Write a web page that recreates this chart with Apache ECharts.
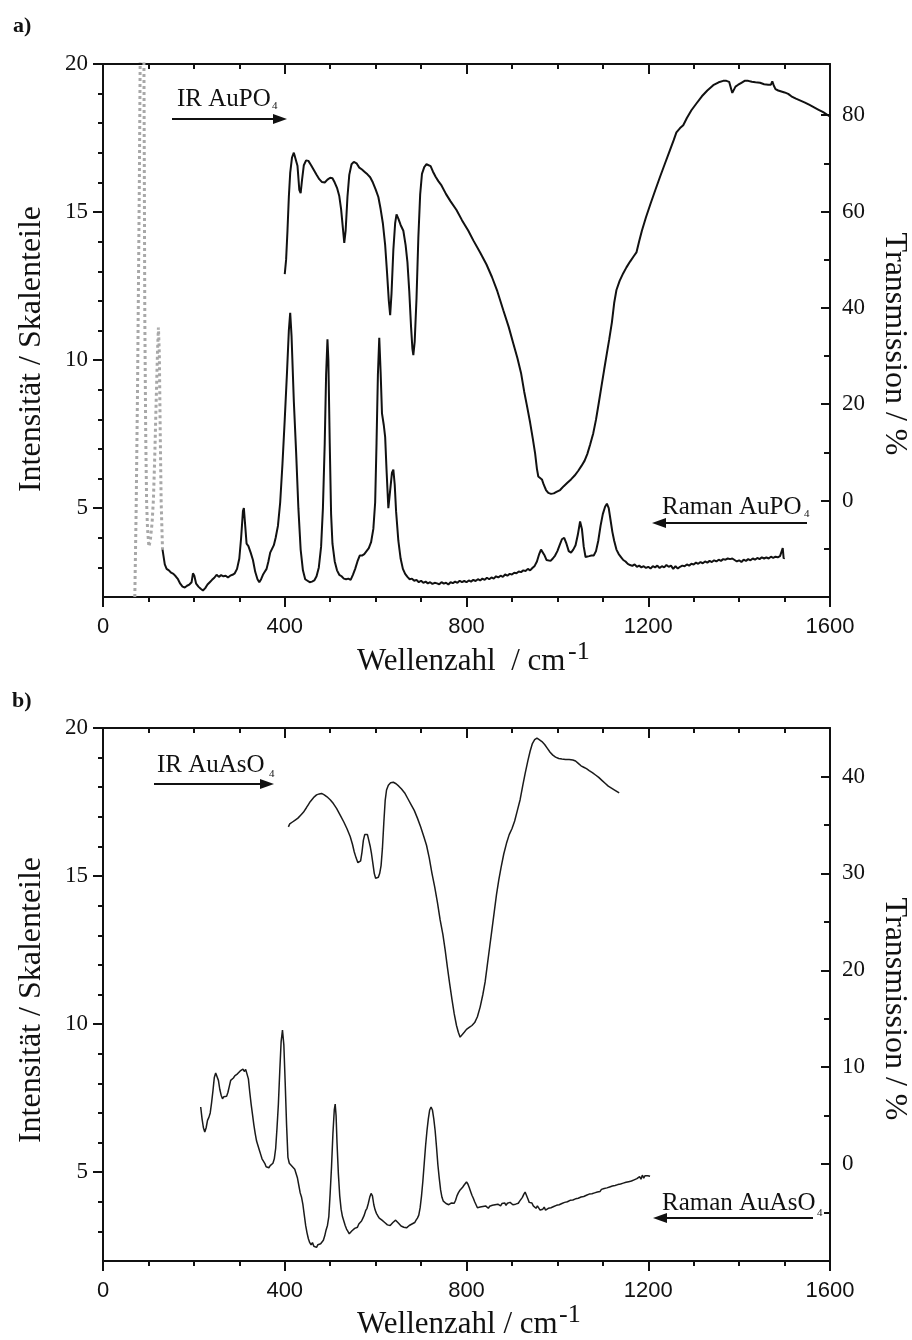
<!DOCTYPE html>
<html>
<head>
<meta charset="utf-8">
<script src="https://cdn.jsdelivr.net/npm/echarts@6/dist/echarts.min.js"></script>
<style>
html,body{margin:0;padding:0;background:#fff;}
#c{width:912px;height:1340px;}
</style>
</head>
<body>
<div id="c"></div>
<script>
// ---------- DATA ----------
const xTicks = [0, 400, 800, 1200, 1600];
const leftTicks = [5, 10, 15, 20];
const leftMinor = [3, 4, 6, 7, 8, 9, 11, 12, 13, 14, 16, 17, 18, 19];
const rightTicksA = [0, 20, 40, 60, 80];
const rightMinorA = [-10, 10, 30, 50, 70];
const rightTicksB = [0, 10, 20, 30, 40];
const rightMinorB = [-5, 5, 15, 25, 35];

// Panel a: IR AuPO4 (Transmission / %)
const irAuPO4 = [
[400,47.0],[403,50],[406,56],[409,63],[412,68],[416,71.2],[420,72.2],[424,72.0],[428,69.5],[432,64.5],[435,63.8],[438,66.5],[442,69.6],[447,70.6],[452,70.5],[458,69.6],[464,68.6],[470,67.6],[476,66.7],[482,66.1],[488,66.0],[494,66.6],[500,67.0],[505,66.9],[510,66.0],[515,64.9],[520,63.2],[524,60.5],[528,56.5],[531,53.5],[534,56],[538,63],[542,67.6],[547,69.8],[552,70.3],[558,70.0],[564,69.1],[570,68.7],[576,68.2],[582,67.7],[588,67.1],[594,66.0],[600,64.6],[606,63.0],[611,60.5],[616,57.5],[621,53.0],[625,47.5],[629,41.5],[632,38.5],[635,43],[639,52],[643,57.6],[646,59.4],[650,58.5],[655,57.2],[661,56.0],[666,53.0],[670,49.5],[674,43.5],[678,36],[681,31.5],[683,30.2],[686,33],[690,42],[694,54.5],[698,63.5],[702,67.8],[707,69.2],[712,69.8],[716,69.9],[721,69.4],[726,68.3],[732,67.2],[738,66.3],[745,65.4],[755,63.6],[765,62.1],[778,60.3],[790,58.2],[804,56.0],[815,54.0],[830,51.5],[844,49.0],[856,46.4],[868,43.4],[881,39.5],[893,36.0],[903,32.6],[912,29.6],[920,26.5],[927,22.6],[933,19.7],[940,16.2],[946,12.8],[951,9.8],[955,6.6],[958,5.0],[962,4.6],[966,4.4],[970,3.3],[975,2.2],[980,1.6],[986,1.4],[992,1.5],[998,1.8],[1006,2.2],[1014,3.0],[1022,3.7],[1030,4.4],[1038,5.2],[1046,6.2],[1053,7.2],[1060,8.3],[1066,9.7],[1072,11.6],[1079,14.0],[1085,16.8],[1091,20.2],[1097,23.7],[1103,27.2],[1109,30.6],[1114,33.4],[1120,37.0],[1125,41.0],[1130,43.7],[1137,45.6],[1145,47.2],[1152,48.4],[1160,49.6],[1168,50.7],[1174,51.5],[1180,53.8],[1186,56.0],[1195,58.8],[1205,61.6],[1215,64.3],[1226,67.2],[1237,70.0],[1248,72.8],[1256,74.8],[1262,76.4],[1270,77.3],[1277,77.9],[1285,79.4],[1295,81.0],[1306,82.4],[1318,83.9],[1330,85.1],[1343,86.2],[1355,86.8],[1365,87.1],[1372,87.1],[1378,86.9],[1382,86.6],[1385,84.6],[1388,84.8],[1392,85.9],[1398,86.3],[1405,86.7],[1412,87.1],[1420,87.1],[1428,86.9],[1436,86.8],[1446,86.7],[1455,86.4],[1464,86.3],[1470,86.3],[1473,87.0],[1476,86.2],[1480,85.4],[1486,85.1],[1493,84.9],[1500,84.7],[1508,84.4],[1515,83.9],[1525,83.4],[1535,83.0],[1545,82.6],[1555,82.1],[1565,81.6],[1575,81.1],[1585,80.6],[1595,80.0],[1600,79.7]
];

// Panel a: Raman AuPO4, Rayleigh region (grey dotted)
const ramanAuPO4Low = [
[70,2.0],[73,5],[76,9],[78,12.5],[80,16],[82,20.5],[85,24],[88,24],[90,20.5],[92,11.5],[94,7.5],[96,5.2],[98,4.3],[101,3.7],[104,3.9],[108,4.5],[111,5.3],[114,6.8],[117,8.6],[120,10.3],[122,11.1],[124,10.2],[126,7.5],[128,5.2],[131,3.6]
];

// Panel a: Raman AuPO4 (Intensität)
const ramanAuPO4 = [
[131,3.6],[136,3.1],[140,2.95],[145,2.9],[150,2.82],[155,2.78],[160,2.7],[165,2.6],[170,2.45],[175,2.35],[180,2.32],[185,2.38],[190,2.42],[195,2.5],[198,2.8],[201,2.72],[205,2.45],[210,2.35],[215,2.28],[220,2.22],[225,2.3],[230,2.42],[235,2.5],[240,2.58],[245,2.65],[250,2.75],[255,2.68],[260,2.74],[265,2.7],[270,2.72],[275,2.66],[280,2.72],[285,2.75],[290,2.8],[295,2.95],[300,3.3],[304,4.0],[308,4.9],[310,5.0],[313,4.4],[316,3.8],[320,3.72],[325,3.5],[330,3.25],[335,2.85],[340,2.6],[344,2.5],[348,2.6],[352,2.75],[356,2.85],[360,2.95],[364,3.2],[368,3.5],[372,3.55],[376,3.75],[380,4.0],[385,4.4],[390,5.2],[395,6.5],[400,8.0],[405,9.6],[409,11.0],[412,11.6],[415,10.8],[420,8.6],[425,6.9],[430,5.0],[435,3.6],[440,2.9],[445,2.6],[450,2.55],[455,2.5],[460,2.52],[465,2.56],[470,2.7],[475,3.0],[480,3.7],[484,5.0],[488,7.2],[491,9.5],[494,10.7],[496,10.0],[499,7.2],[502,4.8],[505,3.8],[510,3.2],[515,2.9],[520,2.75],[525,2.7],[530,2.62],[535,2.6],[540,2.62],[545,2.58],[550,2.75],[555,2.95],[560,3.2],[565,3.4],[570,3.4],[575,3.45],[580,3.55],[585,3.65],[590,3.85],[595,4.3],[599,5.2],[602,7.2],[605,9.5],[608,10.75],[611,9.6],[614,8.2],[618,7.8],[621,7.4],[624,6.3],[628,5.0],[632,5.6],[636,6.2],[639,6.3],[642,5.8],[645,4.9],[650,3.9],[655,3.3],[660,2.95],[665,2.78],[670,2.68],[675,2.6],[680,2.62],[685,2.55],[690,2.58],[695,2.5],[700,2.55],[705,2.48],[710,2.52],[715,2.46],[720,2.5],[725,2.44],[730,2.48],[735,2.46],[740,2.43],[745,2.5],[750,2.45],[755,2.48],[760,2.42],[765,2.5],[770,2.47],[775,2.52],[780,2.48],[785,2.55],[790,2.5],[795,2.54],[800,2.5],[805,2.56],[810,2.52],[815,2.58],[820,2.54],[825,2.6],[830,2.56],[835,2.62],[840,2.58],[845,2.65],[850,2.6],[855,2.66],[860,2.62],[865,2.7],[870,2.66],[875,2.72],[880,2.68],[885,2.76],[890,2.72],[895,2.78],[900,2.76],[905,2.82],[910,2.8],[915,2.86],[920,2.84],[925,2.9],[930,2.88],[935,2.95],[940,2.9],[945,2.98],[950,3.05],[955,3.2],[960,3.45],[964,3.6],[968,3.65],[972,3.4],[976,3.25],[980,3.3],[985,3.22],[990,3.3],[995,3.4],[1000,3.55],[1005,3.75],[1010,3.95],[1015,4.0],[1020,3.8],[1025,3.55],[1030,3.5],[1035,3.6],[1040,3.75],[1045,4.1],[1050,4.55],[1054,4.3],[1058,3.7],[1062,3.35],[1066,3.3],[1070,3.38],[1075,3.4],[1080,3.4],[1085,3.55],[1090,3.9],[1095,4.4],[1100,4.8],[1105,5.05],[1109,5.15],[1113,5.0],[1117,4.6],[1121,4.2],[1125,3.9],[1130,3.6],[1135,3.45],[1140,3.35],[1145,3.25],[1150,3.2],[1155,3.12],[1160,3.08],[1165,3.05],[1170,3.1],[1175,3.02],[1180,3.06],[1185,3.0],[1190,3.04],[1195,2.98],[1200,3.02],[1205,2.96],[1210,3.04],[1215,3.0],[1220,3.06],[1225,2.98],[1230,3.04],[1235,3.0],[1240,3.08],[1245,3.02],[1250,3.06],[1255,2.95],[1260,3.04],[1265,2.96],[1270,3.02],[1275,3.06],[1280,3.04],[1285,3.1],[1290,3.06],[1295,3.12],[1300,3.1],[1305,3.16],[1310,3.12],[1315,3.18],[1320,3.14],[1325,3.2],[1330,3.16],[1335,3.22],[1340,3.18],[1345,3.24],[1350,3.2],[1355,3.26],[1360,3.22],[1365,3.28],[1370,3.26],[1375,3.3],[1380,3.28],[1385,3.3],[1390,3.25],[1395,3.2],[1400,3.24],[1405,3.18],[1410,3.26],[1415,3.22],[1420,3.28],[1425,3.24],[1430,3.3],[1435,3.26],[1440,3.32],[1445,3.28],[1450,3.34],[1455,3.3],[1460,3.34],[1465,3.3],[1470,3.36],[1475,3.32],[1480,3.36],[1485,3.34],[1490,3.38],[1494,3.34],[1496,3.65],[1498,3.3],[1500,3.32]
];

// Panel b: IR AuAsO4 (Transmission / %)
const irAuAsO4 = [
[408,34.8],[411,35.1],[414,34.9],[417,35.3],[420,35.1],[423,35.5],[426,35.3],[429,35.7],[432,35.6],[435,36.0],[438,35.9],[441,36.3],[444,36.4],[448,36.8],[452,37.1],[456,37.4],[460,37.6],[465,37.9],[470,38.1],[476,38.2],[481,38.25],[487,38.1],[493,37.9],[500,37.6],[507,37.2],[514,36.7],[522,36.0],[530,35.3],[537,34.6],[544,33.8],[549,33.0],[553,32.2],[557,31.6],[561,31.1],[564,31.0],[567,31.3],[570,32.2],[573,33.4],[576,34.0],[579,34.2],[582,34.0],[585,33.4],[588,32.8],[591,32.0],[594,31.0],[597,30.0],[600,29.5],[603,29.4],[606,29.6],[609,30.0],[612,30.8],[615,32.6],[618,35.2],[621,37.5],[624,38.6],[628,39.1],[633,39.35],[639,39.4],[645,39.25],[651,39.0],[657,38.7],[664,38.3],[671,37.7],[678,37.1],[685,36.5],[692,35.7],[699,34.8],[706,33.8],[712,32.9],[718,31.6],[724,30.0],[730,28.6],[736,27.0],[742,25.2],[748,23.7],[753,22.1],[758,20.3],[763,18.6],[768,17.0],[773,15.5],[778,14.3],[782,13.6],[786,13.1],[790,13.2],[795,13.6],[800,13.9],[806,14.1],[812,14.3],[818,14.6],[824,15.2],[830,16.2],[836,17.5],[841,18.8],[846,20.6],[851,22.4],[856,24.2],[861,26.0],[866,27.8],[871,29.3],[876,30.6],[882,32.0],[888,33.1],[894,34.0],[900,34.6],[906,35.4],[912,36.5],[918,37.6],[924,39.1],[929,40.3],[935,41.6],[940,42.6],[945,43.4],[950,43.8],[955,43.95],[960,43.8],[966,43.6],[972,43.3],[978,42.9],[984,42.5],[990,42.2],[996,42.0],[1003,41.85],[1010,41.8],[1018,41.75],[1026,41.75],[1034,41.7],[1040,41.6],[1046,41.35],[1052,41.1],[1058,40.95],[1064,40.8],[1070,40.6],[1077,40.4],[1084,40.15],[1091,39.9],[1098,39.6],[1105,39.3],[1112,39.0],[1119,38.8],[1126,38.6],[1136,38.3]
];

// Panel b: Raman AuAsO4 (Intensität)
const ramanAuAsO4 = [
[215,7.2],[218,6.8],[221,6.5],[224,6.36],[227,6.5],[230,6.75],[233,6.85],[236,7.0],[239,7.35],[242,7.75],[245,8.2],[248,8.35],[251,8.32],[254,8.1],[257,7.8],[260,7.6],[263,7.48],[266,7.55],[269,7.5],[272,7.56],[275,7.7],[278,7.9],[281,8.1],[284,8.15],[287,8.18],[290,8.25],[293,8.22],[296,8.32],[299,8.35],[302,8.42],[305,8.4],[308,8.48],[311,8.4],[314,8.47],[317,8.45],[320,8.15],[323,7.7],[326,7.3],[329,6.95],[332,6.6],[335,6.3],[338,6.05],[341,5.9],[344,5.75],[347,5.6],[350,5.45],[353,5.4],[356,5.3],[359,5.18],[362,5.2],[365,5.15],[368,5.22],[371,5.28],[374,5.3],[377,5.45],[380,5.8],[383,6.5],[386,7.3],[389,8.4],[392,9.4],[395,9.8],[398,9.3],[401,8.0],[404,6.6],[407,5.5],[410,5.3],[413,5.25],[416,5.2],[419,5.18],[422,5.1],[425,5.05],[428,4.8],[431,4.55],[434,4.3],[437,4.15],[440,3.9],[443,3.55],[446,3.2],[449,2.95],[452,2.75],[455,2.62],[458,2.55],[461,2.62],[464,2.5],[467,2.52],[470,2.46],[473,2.55],[476,2.5],[479,2.58],[482,2.6],[485,2.7],[488,2.85],[491,3.05],[494,3.2],[497,3.5],[500,4.3],[503,5.2],[506,6.3],[509,7.1],[511,7.3],[513,6.9],[515,6.0],[518,4.95],[521,4.2],[524,3.75],[527,3.5],[530,3.35],[533,3.2],[536,3.08],[539,3.0],[542,2.92],[545,2.98],[548,3.02],[551,3.05],[554,3.1],[557,3.15],[560,3.14],[563,3.25],[566,3.3],[569,3.35],[572,3.45],[575,3.55],[578,3.7],[581,3.78],[584,3.95],[587,4.15],[590,4.28],[593,4.2],[596,3.9],[599,3.72],[602,3.6],[605,3.52],[608,3.45],[611,3.42],[614,3.38],[617,3.35],[620,3.3],[623,3.28],[626,3.22],[629,3.25],[632,3.2],[635,3.25],[638,3.3],[641,3.35],[644,3.38],[647,3.36],[650,3.28],[653,3.22],[656,3.18],[659,3.12],[662,3.14],[665,3.08],[668,3.12],[671,3.15],[674,3.2],[677,3.18],[680,3.25],[683,3.27],[686,3.3],[689,3.38],[692,3.45],[695,3.55],[698,3.8],[701,4.2],[704,4.7],[707,5.3],[710,5.9],[713,6.4],[716,6.8],[719,7.1],[722,7.2],[725,7.1],[728,6.8],[731,6.4],[734,5.85],[737,5.25],[740,4.8],[743,4.4],[746,4.15],[749,4.02],[752,3.98],[755,3.94],[758,3.98],[761,3.9],[764,3.92],[767,3.96],[770,3.9],[773,3.95],[776,4.05],[779,4.2],[782,4.3],[785,4.38],[788,4.4],[791,4.48],[794,4.55],[797,4.6],[800,4.67],[803,4.6],[806,4.48],[809,4.35],[812,4.22],[815,4.12],[818,4.0],[821,3.9],[824,3.8],[827,3.78],[830,3.82],[833,3.76],[836,3.84],[839,3.8],[842,3.86],[845,3.82],[848,3.78],[851,3.85],[854,3.83],[857,3.88],[860,3.84],[863,3.9],[866,3.86],[869,3.92],[872,3.9],[875,3.86],[878,3.94],[881,3.92],[884,3.96],[887,3.88],[890,3.95],[893,3.9],[896,3.98],[899,3.94],[902,3.9],[905,3.96],[908,3.92],[911,3.98],[914,3.95],[917,4.02],[920,4.05],[923,4.15],[926,4.25],[929,4.33],[932,4.28],[935,4.1],[938,3.98],[941,3.94],[944,3.96],[947,3.86],[950,3.82],[953,3.78],[956,3.86],[959,3.8],[962,3.72],[965,3.78],[968,3.75],[971,3.82],[974,3.72],[977,3.7],[980,3.78],[983,3.82],[986,3.8],[989,3.86],[992,3.84],[995,3.9],[998,3.88],[1001,3.92],[1004,3.9],[1007,3.96],[1010,3.94],[1013,4.0],[1016,3.98],[1019,4.04],[1022,4.0],[1025,4.06],[1028,4.05],[1031,4.1],[1034,4.06],[1037,4.12],[1040,4.1],[1043,4.15],[1046,4.12],[1049,4.18],[1052,4.16],[1055,4.2],[1058,4.18],[1061,4.24],[1064,4.22],[1067,4.28],[1070,4.26],[1073,4.3],[1076,4.27],[1079,4.33],[1082,4.3],[1085,4.36],[1088,4.33],[1091,4.38],[1094,4.35],[1097,4.42],[1100,4.38],[1103,4.45],[1106,4.4],[1109,4.47],[1112,4.43],[1115,4.5],[1118,4.46],[1121,4.53],[1124,4.48],[1127,4.55],[1130,4.5],[1133,4.58],[1136,4.54],[1139,4.6],[1142,4.55],[1145,4.63],[1148,4.58],[1151,4.66],[1154,4.6],[1157,4.68],[1160,4.62],[1163,4.7],[1166,4.64],[1169,4.74],[1172,4.68],[1175,4.78],[1178,4.72],[1181,4.85],[1184,4.76],[1187,4.9],[1190,4.8],[1193,4.88],[1196,4.82],[1199,4.88],[1202,4.84],[1204,4.86]
];

// ---------- CHART ----------
const SERIF = '"Liberation Serif", "Times New Roman", serif';
const SANS = '"Liberation Sans", Arial, sans-serif';
const INK = '#111';

function xAxes(grid) {
  const base = {
    type: 'value', gridIndex: grid, min: 0, max: 1600, interval: 400,
    axisLine: { show: true, onZero: false, lineStyle: { color: INK, width: 2 } },
    splitLine: { show: false },
    minorSplitLine: { show: false }
  };
  return [
    Object.assign({}, base, {
      position: 'bottom',
      axisTick: { show: true, inside: false, length: 10, lineStyle: { color: INK, width: 2 } },
      minorTick: { show: true, splitNumber: 4, length: 5, lineStyle: { color: INK, width: 2 } },
      axisLabel: { show: true, customValues: xTicks, margin: 19, color: INK, fontFamily: SANS, fontSize: 22,
        formatter: function (v) { return String(v); } }
    }),
    Object.assign({}, base, {
      position: 'top',
      axisTick: { show: true, inside: true, length: 10, lineStyle: { color: INK, width: 2 } },
      minorTick: { show: true, splitNumber: 4, length: 5, lineStyle: { color: INK, width: 2 } },
      axisLabel: { show: false }
    })
  ];
}

function yAxis(grid, pos, min, max, ticks, len, labels, inside, showLine) {
  return {
    type: 'value', gridIndex: grid, position: pos, min: min, max: max,
    axisLine: { show: showLine, onZero: false, lineStyle: { color: INK, width: 2 } },
    splitLine: { show: false },
    axisTick: { show: true, inside: inside, length: len, customValues: ticks, lineStyle: { color: INK, width: 2 } },
    axisLabel: labels ? { show: true, customValues: ticks, margin: pos === 'left' ? 15 : 12, color: INK, fontFamily: SERIF, fontSize: 23,
      formatter: function (v) { return String(v); } } : { show: false }
  };
}

const chart = echarts.init(document.getElementById('c'), null, { renderer: 'canvas' });

function lineSeries(name, data, xi, yi, color, width, type) {
  return {
    name: name, type: 'line', data: data, xAxisIndex: xi, yAxisIndex: yi,
    showSymbol: false, symbol: 'none', smooth: false, clip: true,
    lineStyle: { color: color, width: width, type: type || 'solid' },
    emphasis: { disabled: true }, silent: true
  };
}

function txt(x, y, text, size, opts) {
  opts = opts || {};
  return {
    type: 'text', x: x, y: y, rotation: opts.rot || 0, silent: true,
    style: {
      text: text, fill: INK,
      font: (opts.bold ? 'bold ' : '') + size + 'px ' + (opts.sans ? SANS : SERIF),
      align: opts.align || 'left', verticalAlign: 'middle'
    }
  };
}
function arrow(x1, x2, y, w) {
  const dir = x2 > x1 ? 1 : -1;
  const base = x2 - dir * 14;
  return [
    { type: 'line', silent: true, shape: { x1: x1, y1: y, x2: base, y2: y }, style: { stroke: INK, lineWidth: w } },
    { type: 'polygon', silent: true, shape: { points: [[x2, y], [base, y - 5], [base, y + 5]] }, style: { fill: INK } }
  ];
}

const option = {
  animation: false,
  backgroundColor: '#fff',
  grid: [
    { left: 103, top: 64, width: 727, height: 533, containLabel: false, outerBoundsMode: 'none' },
    { left: 103, top: 728, width: 727, height: 533, containLabel: false, outerBoundsMode: 'none' }
  ],
  xAxis: [].concat(xAxes(0), xAxes(1)),
  yAxis: [
    yAxis(0, 'left', 2, 20, leftTicks, 10, true, false, true),
    yAxis(0, 'left', 2, 20, leftMinor, 5, false, false, false),
    yAxis(0, 'right', -20, 90.6, rightTicksA, 9, true, true, true),
    yAxis(0, 'right', -20, 90.6, rightMinorA, 6, false, true, false),
    yAxis(1, 'left', 2, 20, leftTicks, 10, true, false, true),
    yAxis(1, 'left', 2, 20, leftMinor, 5, false, false, false),
    yAxis(1, 'right', -10, 45, rightTicksB, 9, true, true, true),
    yAxis(1, 'right', -10, 45, rightMinorB, 6, false, true, false)
  ],
  series: [
    lineSeries('Raman AuPO4 (Rayleigh)', ramanAuPO4Low, 0, 0, '#a8a8a8', 3, 'dotted'),
    lineSeries('Raman AuPO4', ramanAuPO4, 0, 0, INK, 2),
    lineSeries('IR AuPO4', irAuPO4, 0, 2, INK, 2),
    lineSeries('Raman AuAsO4', ramanAuAsO4, 2, 4, '#1a1a1a', 1.5),
    lineSeries('IR AuAsO4', irAuAsO4, 2, 6, '#1a1a1a', 1.5)
  ],
  graphic: { elements: [].concat(
    [
      txt(13, 26, 'a)', 22, { bold: true }),
      txt(12, 701, 'b)', 22, { bold: true }),
      // left axis titles
      txt(32, 349, 'Intensität / Skalenteile', 32, { rot: Math.PI / 2, align: 'center' }),
      txt(32, 1000, 'Intensität / Skalenteile', 32, { rot: Math.PI / 2, align: 'center' }),
      // right axis titles
      txt(894, 344, 'Transmission / %', 32, { rot: -Math.PI / 2, align: 'center' }),
      txt(894, 1009, 'Transmission / %', 32, { rot: -Math.PI / 2, align: 'center' }),
      // x axis titles
      txt(357, 662, 'Wellenzahl  / cm', 31),
      txt(568, 652, '-1', 26),
      txt(357, 1325, 'Wellenzahl / cm', 31),
      txt(559, 1315, '-1', 26),
      // annotations
      txt(177, 99, 'IR AuPO', 25),
      txt(272, 106, '4', 11),
      txt(662, 507, 'Raman AuPO', 25),
      txt(804, 514, '4', 11),
      txt(157, 765, 'IR AuAsO', 25),
      txt(269, 774, '4', 11),
      txt(662, 1203, 'Raman AuAsO', 25),
      txt(817, 1213, '4', 11)
    ],
    arrow(172, 287, 119, 2),
    arrow(807, 652, 523, 2),
    arrow(154, 274, 784, 2),
    arrow(813, 653, 1218, 2)
  ) }
};
chart.setOption(option);
</script>
</body>
</html>
